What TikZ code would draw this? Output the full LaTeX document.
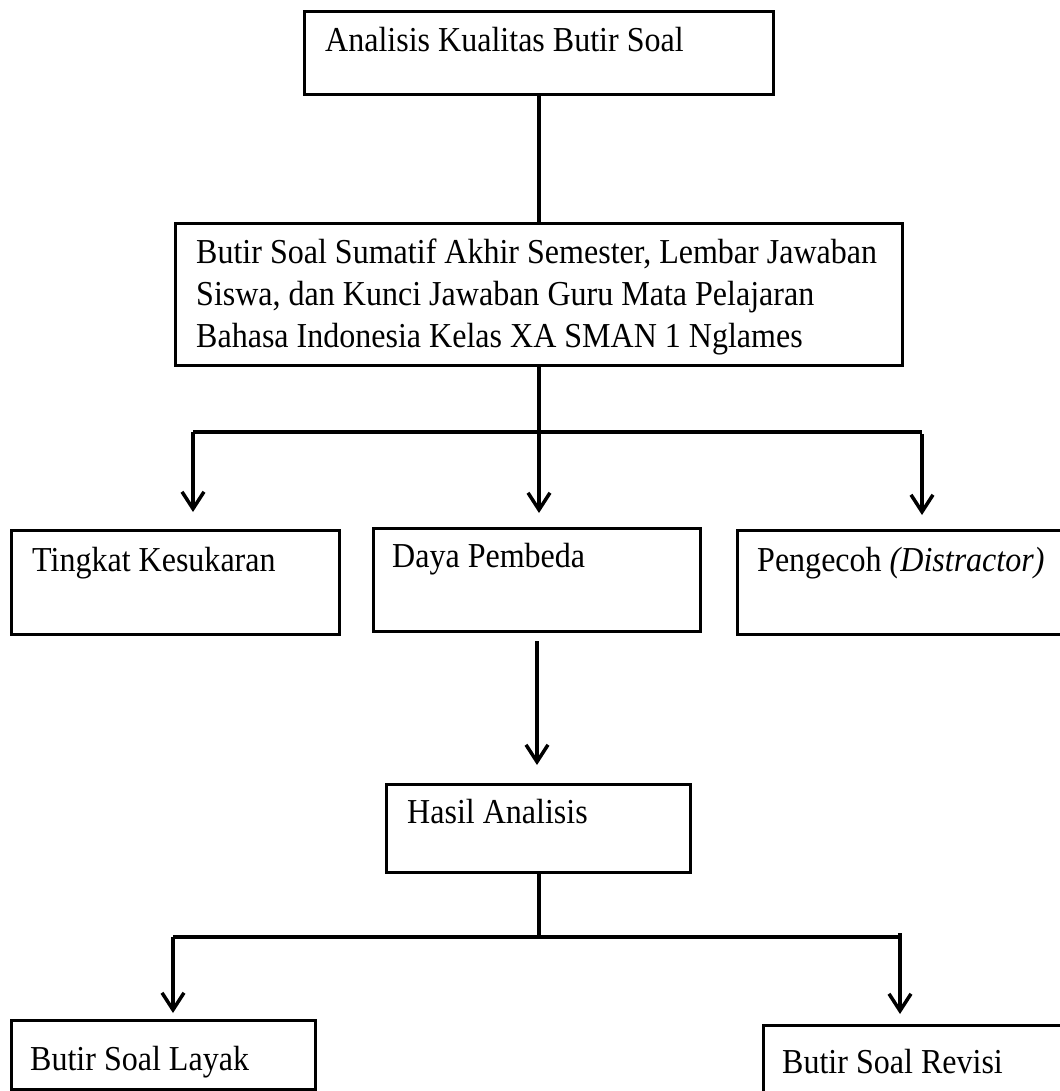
\documentclass[tikz,border=0pt]{standalone}
\usepackage{fontspec}
\setmainfont{Liberation Serif}[FakeStretch=0.915]
\usetikzlibrary{arrows.meta}
\begin{document}
\begin{tikzpicture}[x=1pt,y=-1pt,
  box/.style={draw=black, line width=3pt, inner sep=0pt, anchor=north west, fill=none},
  txt/.style={inner sep=0pt, anchor=base west, font=\fontsize{35}{42}\selectfont, text=black},
  conn/.style={draw=black, line width=4pt},
  arrow/.style={conn, -{Straight Barb[length=17pt,width=22pt,line width=3.5pt]}}
]
\useasboundingbox (0,0) rectangle (1059,1091);
\fill[white] (0,0) rectangle (1059,1091);

% boxes
\node[box, minimum width=469pt, minimum height=83pt] (b1) at (303,10) {};
\node[box, minimum width=727pt, minimum height=142pt] (b2) at (174,222) {};
\node[box, minimum width=328pt, minimum height=104pt] (b3) at (10,529) {};
\node[box, minimum width=327pt, minimum height=103pt] (b4) at (372,527) {};
\node[box, minimum width=329pt, minimum height=104pt] (b5) at (736,529) {};
\node[box, minimum width=304pt, minimum height=88pt] (b6) at (385,783) {};
\node[box, minimum width=304pt, minimum height=69pt] (b7) at (10,1019) {};
\node[box, minimum width=303pt, minimum height=72pt] (b8) at (762,1024) {};

% texts
\node[txt] (t1) at (325,52) {Analisis Kualitas Butir Soal};
\node[txt, align=left] (t2) at (196,347) {Butir Soal Sumatif Akhir Semester, Lembar Jawaban\\Siswa, dan Kunci Jawaban Guru Mata Pelajaran\\Bahasa Indonesia Kelas XA SMAN 1 Nglames};
\node[txt] (t3) at (32,571) {Tingkat Kesukaran};
\node[txt] (t4) at (392,567) {Daya Pembeda};
\node[txt] (t5) at (757,571) {Pengecoh \textit{(Distractor)}};
\node[txt] (t6) at (407,823) {Hasil Analisis};
\node[txt] (t7) at (30,1070) {Butir Soal Layak};
\node[txt] (t8) at (782,1073) {Butir Soal Revisi};

% junction coordinates
\coordinate (hl) at (193,432);
\coordinate (hr) at (922,432);
\coordinate (hl2) at (173,937);
\coordinate (hr2) at (900,937);

% connectors
\draw[conn] (b1.south) -- (b1.south |- b2.north);
\draw[conn] (hl) -- (hr);
\draw[arrow, shorten >=14pt] (b2.south) -- (b2.south |- b4.north);
\draw[arrow, shorten >=17pt] (hl) -- (hl |- b3.north);
\draw[arrow, shorten >=14pt] ([yshift=-2pt]hr) -- (hr |- b5.north);
\draw[arrow, shorten <=8pt, shorten >=18pt] (b4.south) -- (b4.south |- b6.north);
\draw[conn] (b6.south) -- (b6.south |- hl2);
\draw[conn] (hl2) -- (hr2);
\draw[arrow, shorten >=6pt] (hl2) -- (hl2 |- b7.north);
\draw[arrow, shorten >=10pt] ([yshift=4pt]hr2) -- (hr2 |- b8.north);
\end{tikzpicture}
\end{document}
